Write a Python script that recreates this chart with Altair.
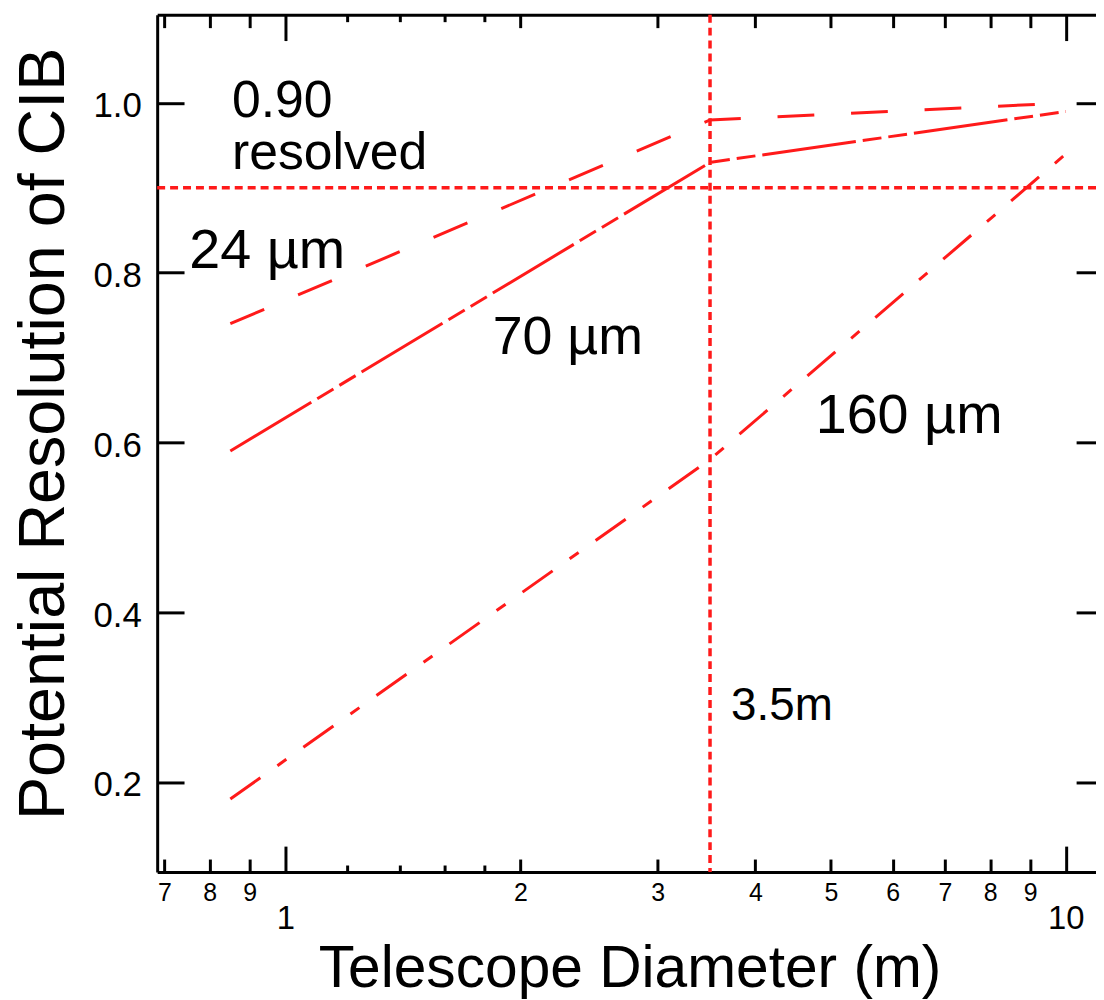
import altair as alt
import pandas as pd

# ---------------- data ----------------
diameters = [0.85, 3.5, 10.0]
res_24um = [0.74, 0.98, 1.00]
res_70um = [0.59, 0.93, 0.99]
res_160um = [0.18, 0.58, 0.94]
series_names = ["24 µm", "70 µm", "160 µm"]

resolved_fraction = [0.90]
chosen_diameter = [3.5]

x_major_ticks = [1, 10]
x_minor_ticks = [0.7, 0.8, 0.9, 2, 3, 4, 5, 6, 7, 8, 9]
x_subminor_ticks = [1.2, 1.4, 1.6, 1.8]
y_ticks = [0.2, 0.4, 0.6, 0.8, 1.0]

note_text = ["0.90", "resolved", "24 µm", "70 µm", "160 µm", "3.5m"]
note_x = [0.854, 0.854, 0.753, 1.843, 4.78, 3.724]
note_y = [0.983, 0.922, 0.805, 0.704, 0.611, 0.273]
note_size = [52, 52, 56, 54, 56, 46]

X_DOMAIN = [0.685, 10.93]
Y_DOMAIN = [0.094, 1.104]

FONT = "Liberation Sans"
RED = "#ff1a1a"

# ---------------- tables ----------------
rows = []
for name, vals in zip(series_names, [res_24um, res_70um, res_160um]):
    for d, r in zip(diameters, vals):
        rows.append({"d": d, "r": r, "s": name})
lines_df = pd.DataFrame(rows)
hline_df = pd.DataFrame({"r": resolved_fraction})
vline_df = pd.DataFrame({"d": chosen_diameter})
notes_df = pd.DataFrame({"d": note_x, "r": note_y, "t": note_text, "fs": note_size})

xs = alt.Scale(type="log", domain=X_DOMAIN, nice=False)
ys = alt.Scale(domain=Y_DOMAIN, nice=False, zero=False)

minor_expr = "datum.value < 1 ? format(datum.value*10, '.0f') : format(datum.value, '.0f')"


def ax(**kw):
    base = dict(grid=False, domain=False, ticks=True, labels=False, title=None,
                tickColor="black", tickWidth=3, domainColor="black", domainWidth=3,
                labelColor="black", labelFont=FONT, titleFont=FONT, titleColor="black",
                titleFontWeight="normal", labelFlush=False, labelOverlap=False,
                labelBound=False)
    base.update(kw)
    return alt.Axis(**base)


lines = alt.Chart(lines_df).mark_line(color=RED, strokeWidth=3).encode(
    x=alt.X("d:Q", scale=xs,
            axis=ax(orient="bottom", values=x_major_ticks, offset=-26, tickSize=26,
                    labels=True, labelFontSize=33, labelPadding=31,
                    labelExpr="format(datum.value, '.0f')")),
    y=alt.Y("r:Q", scale=ys,
            axis=ax(orient="left", values=y_ticks, offset=-27, tickSize=27,
                    labels=True, labelFontSize=35, labelPadding=16, format=".1f",
                    labelOffset=3)),
    strokeDash=alt.StrokeDash("s:N", scale=alt.Scale(
        domain=series_names,
        range=[[37, 37], [95, 7, 19, 7, 19, 7], [37, 21, 11, 21]]), legend=None),
)

vline = alt.Chart(vline_df).mark_rule(color=RED, strokeWidth=3.5, strokeDash=[8, 5]).encode(
    x=alt.X("d:Q", scale=xs,
            axis=ax(orient="bottom", values=x_minor_ticks, offset=-13, tickSize=13,
                    labels=True, labelFontSize=25, labelPadding=9, labelExpr=minor_expr)),
)

hline = alt.Chart(hline_df).mark_rule(color=RED, strokeWidth=3.5, strokeDash=[8, 5]).encode(
    y=alt.Y("r:Q", scale=ys,
            axis=ax(orient="left", ticks=False, domain=True,
                    title="Potential Resolution of CIB", titleFontSize=65,
                    titlePadding=80, titleY=421)),
)

notes = alt.Chart(notes_df).mark_text(align="left", baseline="alphabetic", font=FONT,
                                      color="black").encode(
    x=alt.X("d:Q", scale=xs,
            axis=ax(orient="bottom", values=x_subminor_ticks, offset=-7, tickSize=7)),
    y=alt.Y("r:Q", scale=ys,
            axis=ax(orient="right", values=y_ticks, offset=-20, tickSize=20)),
    text="t:N",
    size=alt.Size("fs:Q", scale=None),
)


def ghost(axis):
    return alt.Chart(lines_df).mark_point(opacity=0).encode(
        x=alt.X("d:Q", scale=xs, axis=axis))


bottom_frame = ghost(ax(orient="bottom", ticks=False, domain=True,
                        title="Telescope Diameter (m)", titleFontSize=59,
                        titlePadding=68, titleX=475))
top_major = ghost(ax(orient="top", values=x_major_ticks, offset=-26, tickSize=26))
top_minor = ghost(ax(orient="top", values=x_minor_ticks, offset=-13, tickSize=13))
top_sub = ghost(ax(orient="top", values=x_subminor_ticks, offset=-7, tickSize=7))
top_frame = ghost(ax(orient="top", ticks=False, domain=True))

chart = alt.layer(
    lines, vline, hline, notes, bottom_frame, top_major, top_minor, top_sub, top_frame
).resolve_axis(
    x="independent", y="independent"
).properties(
    width=944, height=862,
    autosize=alt.AutoSizeParams(type="none"),
    padding={"left": 150, "top": 4, "right": 0, "bottom": 128},
).configure_view(stroke=None)

chart.save("out.html", embed_options={"renderer": "svg", "actions": False})
